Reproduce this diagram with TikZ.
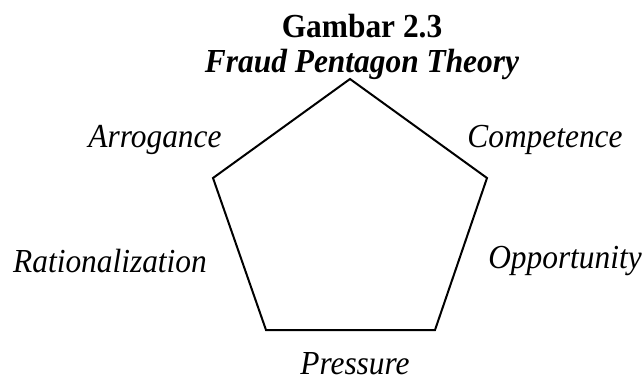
\documentclass[tikz,border=0pt]{standalone}
\usepackage{fontspec}
\setmainfont{Liberation Serif}
\begin{document}
\begin{tikzpicture}[x=1pt,y=-1pt,
  lbl/.style={font=\fontsize{31.4}{34}\selectfont\itshape, inner sep=0pt, anchor=base, yscale=1.07},
  ttl/.style={font=\fontsize{31.4}{34}\selectfont\bfseries, inner sep=0pt, anchor=base, yscale=1.07},
  edge/.style={line width=2pt, line join=miter}]
\useasboundingbox (0,0) rectangle (644,380);
\coordinate (t) at (350,79);
\coordinate (r) at (487,178);
\coordinate (br) at (435,330);
\coordinate (bl) at (266,330);
\coordinate (l) at (213,178);
\draw[edge] (t) -- (r) -- (br) -- (bl) -- (l) -- cycle;
\node[ttl] (title1) at (362,37) {Gambar 2.3};
\node[ttl] (title2) at (362,72) {\itshape Fraud Pentagon Theory};
\node[lbl] (arr) at (155,147) {Arrogance};
\node[lbl] (comp) at (545,147) {Competence};
\node[lbl] (rat) at (110,272) {Rationalization};
\node[lbl] (opp) at (565,268) {Opportunity};
\node[lbl] (pres) at (355,374) {Pressure};
\end{tikzpicture}
\end{document}
